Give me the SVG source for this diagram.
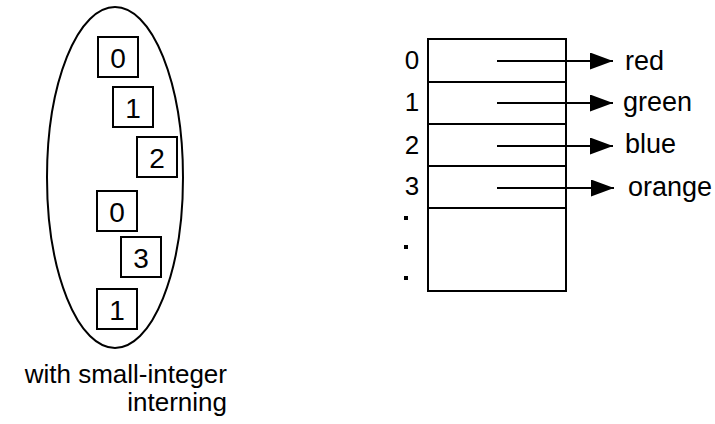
<svg xmlns="http://www.w3.org/2000/svg" width="715" height="424" viewBox="0 0 715 424">
<defs>
<style>
text{font-family:"Liberation Sans",Arial,sans-serif;font-size:26px;fill:#000}
.box rect{fill:#fff;stroke:#000;stroke-width:2}
.box text{text-anchor:middle;font-size:28px}
.ln{stroke:#000;stroke-width:2;fill:none}
.idx{text-anchor:middle}
.lbl{font-size:27px}
.cap{text-anchor:end}
</style>
<marker id="ah" markerWidth="23" markerHeight="17" refX="23" refY="8.5" orient="auto" markerUnits="userSpaceOnUse">
<path d="M0,0 L23,8.5 L0,17 Z" fill="#000"/>
</marker>
</defs>
<rect width="715" height="424" fill="#fff"/>
<g id="pool">
<ellipse cx="115" cy="177.5" rx="68" ry="170.5" class="ln"/>
</g>
<g id="b1" class="box"><rect x="98" y="37" width="40" height="40"/><text x="118" y="68">0</text></g>
<g id="b2" class="box"><rect x="113" y="87" width="40" height="40"/><text x="133" y="118">1</text></g>
<g id="b3" class="box"><rect x="137" y="137" width="40" height="40"/><text x="157" y="168">2</text></g>
<g id="b4" class="box"><rect x="97" y="191" width="40" height="40"/><text x="117" y="222">0</text></g>
<g id="b5" class="box"><rect x="121" y="237" width="40" height="40"/><text x="141" y="268">3</text></g>
<g id="b6" class="box"><rect x="97" y="289" width="40" height="40"/><text x="117" y="320">1</text></g>
<g id="caption">
<text class="cap" x="227" y="383">with small-integer</text>
<text class="cap" x="227" y="411">interning</text>
</g>
<g id="table">
<rect x="428" y="39" width="138" height="252" class="ln"/>
<line x1="428" y1="82" x2="566" y2="82" class="ln"/>
<line x1="428" y1="124" x2="566" y2="124" class="ln"/>
<line x1="428" y1="166" x2="566" y2="166" class="ln"/>
<line x1="428" y1="208" x2="567" y2="208" class="ln"/>
<text class="idx" x="412" y="69">0</text>
<text class="idx" x="412" y="111">1</text>
<text class="idx" x="412" y="154">2</text>
<text class="idx" x="412" y="195">3</text>
<rect x="404" y="216" width="4" height="4"/>
<rect x="404" y="245" width="4" height="4"/>
<rect x="404" y="276" width="4" height="4"/>
</g>
<g id="connectors">
<line x1="497" y1="61" x2="613" y2="61" class="ln" marker-end="url(#ah)"/>
<line x1="497" y1="103" x2="613" y2="103" class="ln" marker-end="url(#ah)"/>
<line x1="497" y1="146" x2="613" y2="146" class="ln" marker-end="url(#ah)"/>
<line x1="497" y1="188" x2="614" y2="188" class="ln" marker-end="url(#ah)"/>
</g>
<g id="labels">
<text class="lbl" x="625" y="70">red</text>
<text class="lbl" x="623" y="111">green</text>
<text class="lbl" x="625" y="153">blue</text>
<text class="lbl" x="628" y="196">orange</text>
</g>
</svg>
